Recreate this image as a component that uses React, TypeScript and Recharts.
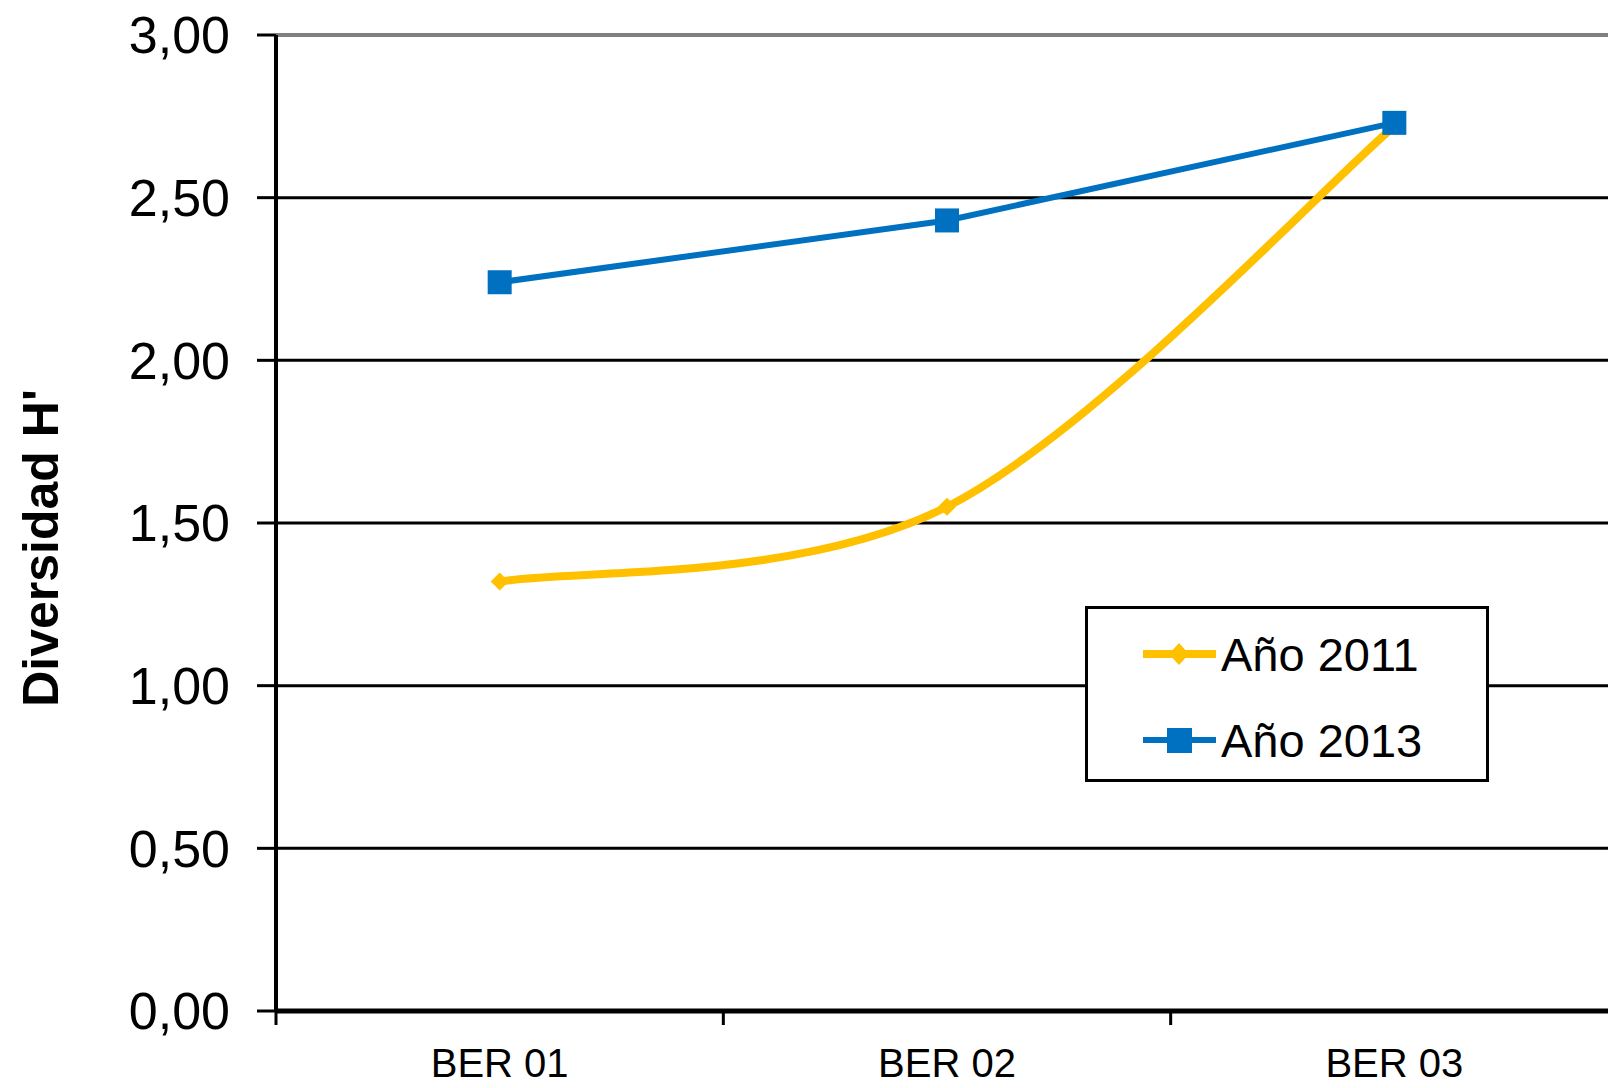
import { LineChart, Line, XAxis, YAxis, CartesianGrid, ReferenceLine } from "recharts";

const categories = ["BER 01", "BER 02", "BER 03"];
const anio2011 = [1.32, 1.55, 2.72];
const anio2013 = [2.24, 2.43, 2.73];
const seriesNames = ["Año 2011", "Año 2013"];
const yTicks = [0, 0.5, 1, 1.5, 2, 2.5, 3];
const bandEdges = [0, 1, 2, 3];

const YELLOW = "#FFC000";
const BLUE = "#0070C0";
const FONT = "Arial, 'Liberation Sans', sans-serif";

const data = categories.map((cat, i) => ({
  cat,
  pos: i + 0.5,
  a2011: anio2011[i],
  a2013: anio2013[i],
}));

// Excel-style smoothing (Catmull-Rom through the points)
const excelSmooth = (context: any) => {
  let pts: number[][] = [];
  return {
    areaStart() {},
    areaEnd() {},
    lineStart() {
      pts = [];
    },
    point(x: number, y: number) {
      pts.push([x, y]);
    },
    lineEnd() {
      if (!pts.length) return;
      context.moveTo(pts[0][0], pts[0][1]);
      for (let i = 0; i < pts.length - 1; i++) {
        const p0 = pts[i - 1] || pts[i];
        const p1 = pts[i];
        const p2 = pts[i + 1];
        const p3 = pts[i + 2] || p2;
        context.bezierCurveTo(
          p1[0] + (p2[0] - p0[0]) / 6,
          p1[1] + (p2[1] - p0[1]) / 6,
          p2[0] - (p3[0] - p1[0]) / 6,
          p2[1] - (p3[1] - p1[1]) / 6,
          p2[0],
          p2[1]
        );
      }
    },
  };
};

const Diamond = (props: any) => {
  const { cx, cy } = props;
  if (cx == null || cy == null) return null;
  const s = 9;
  return <path d={`M${cx},${cy - s}L${cx + s},${cy}L${cx},${cy + s}L${cx - s},${cy}Z`} fill={YELLOW} />;
};

const Square = (props: any) => {
  const { cx, cy } = props;
  if (cx == null || cy == null) return null;
  const s = 12;
  return <rect x={cx - s} y={cy - s} width={s * 2} height={s * 2} fill={BLUE} />;
};

const BoundaryTick = (props: any) => {
  const { x, y } = props;
  return <line x1={x} y1={y - 2} x2={x} y2={y + 14} stroke="#000" strokeWidth={3} />;
};

const LegendBox = () => (
  <div
    style={{
      position: "absolute",
      left: 1085,
      top: 606,
      width: 398,
      height: 168,
      border: "3px solid #000",
      background: "#fff",
      fontFamily: FONT,
      fontSize: 47,
      color: "#000",
      paddingTop: 2,
      boxSizing: "content-box",
    }}
  >
    {seriesNames.map((name, i) => (
      <div key={name} style={{ display: "flex", alignItems: "center", height: 86 }}>
        <svg width={130} height={40} style={{ flex: "none" }}>
          <line x1={55} y1={20} x2={128} y2={20} stroke={i === 0 ? YELLOW : BLUE} strokeWidth={i === 0 ? 8 : 6} />
          {i === 0 ? (
            <path d="M91,9L101,20L91,31L81,20Z" fill={YELLOW} />
          ) : (
            <rect x={79} y={8} width={25} height={25} fill={BLUE} />
          )}
        </svg>
        <span style={{ marginLeft: 3 }}>{name}</span>
      </div>
    ))}
  </div>
);

const YTitle = (props: any) => {
  const vb = props.viewBox || {};
  const cx = 41;
  const cy = (vb.y || 0) + (vb.height || 0) / 2 + 25;
  return (
    <text
      x={cx}
      y={cy}
      transform={`rotate(-90, ${cx}, ${cy})`}
      textAnchor="middle"
      dominantBaseline="central"
      style={{ fontSize: 50, fontWeight: "bold", fontFamily: FONT, fill: "#000" }}
    >
      Diversidad H'
    </text>
  );
};

export default function App() {
  return (
    <div style={{ position: "absolute", left: 0, top: 0, width: 1608, height: 1088, overflow: "hidden", background: "#fff" }}>
      <LineChart width={1622} height={1088} data={data} margin={{ top: 35, right: 4, left: 0, bottom: 0 }}>
        <CartesianGrid vertical={false} stroke="#000" strokeWidth={3} />
        <ReferenceLine y={3} stroke="#808080" strokeWidth={3} />
        <XAxis
          xAxisId="b"
          type="number"
          dataKey="pos"
          domain={[0, 3]}
          ticks={data.map((d) => d.pos)}
          interval={0}
          tickFormatter={(v) => categories[Math.floor(v)]}
          height={75}
          axisLine={false}
          tickLine={false}
          tickSize={0}
          tickMargin={36}
          tick={{ fill: "#000", fontSize: 40, fontFamily: FONT }}
        />
        <XAxis
          xAxisId="a"
          type="number"
          dataKey="pos"
          domain={[0, 3]}
          ticks={bandEdges}
          interval={0}
          tick={<BoundaryTick />}
          height={2}
          tickSize={0}
          tickMargin={0}
          axisLine={{ stroke: "#000", strokeWidth: 5 }}
          tickLine={false}
        />
        <YAxis
          domain={[0, 3]}
          ticks={yTicks}
          width={276}
          tickSize={19}
          tickMargin={27}
          tickFormatter={(v) => v.toFixed(2).replace(".", ",")}
          axisLine={{ stroke: "#000", strokeWidth: 4 }}
          tickLine={{ stroke: "#000", strokeWidth: 3 }}
          tick={{ fill: "#000", fontSize: 52, fontFamily: FONT }}
          label={{ content: <YTitle /> }}
        />
        <Line
          xAxisId="b"
          dataKey="a2011"
          name={seriesNames[0]}
          type={excelSmooth as any}
          stroke={YELLOW}
          strokeWidth={8}
          dot={<Diamond />}
          isAnimationActive={false}
        />
        <Line
          xAxisId="b"
          dataKey="a2013"
          name={seriesNames[1]}
          type="linear"
          stroke={BLUE}
          strokeWidth={6}
          dot={<Square />}
          isAnimationActive={false}
        />
      </LineChart>
      <LegendBox />
    </div>
  );
}
